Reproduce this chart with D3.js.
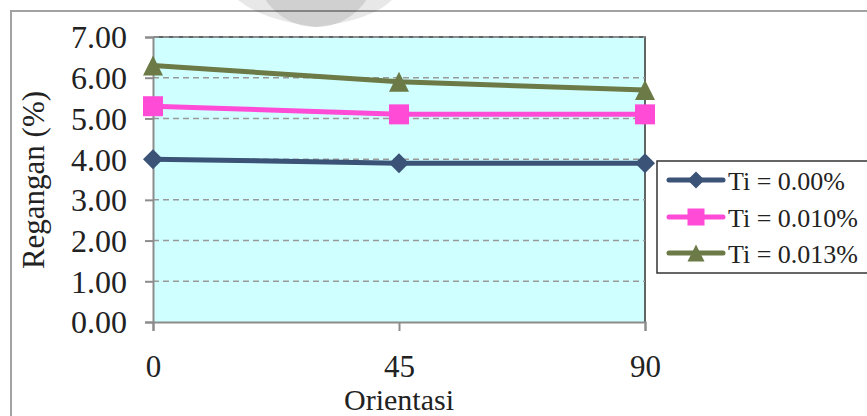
<!DOCTYPE html>
<html>
<head>
<meta charset="utf-8">
<script src="https://cdn.jsdelivr.net/npm/d3@7/dist/d3.min.js"></script>
<style>
  html, body { margin: 0; padding: 0; background: #ffffff; }
  svg { display: block; }
</style>
</head>
<body>
<svg id="chart" width="867" height="416"></svg>
<script>
// Orientation angles on the x axis
const orientations = [0, 45, 90];
// Strain (%) for each titanium content
const ti000 = [4.0, 3.9, 3.9];
const ti010 = [5.3, 5.1, 5.1];
const ti013 = [6.3, 5.9, 5.7];
const seriesNames = ["Ti = 0.00%", "Ti = 0.010%", "Ti = 0.013%"];
const yTicks = [0, 1, 2, 3, 4, 5, 6, 7];

const FONT = "'Liberation Serif', 'Times New Roman', serif";

const series = [
  { name: seriesNames[0], values: ti000, color: "#3a5376", marker: "diamond" },
  { name: seriesNames[1], values: ti010, color: "#ff4bd6", marker: "square" },
  { name: seriesNames[2], values: ti013, color: "#6b7a46", marker: "triangle" }
];

const svg = d3.select("#chart");
const plot = { left: 153, right: 645, top: 37, bottom: 322 };

const x = d3.scaleLinear().domain([0, 90]).range([plot.left, plot.right]);
const y = d3.scaleLinear().domain([0, 7]).range([plot.bottom, plot.top]);

// Outer chart frame
svg.append("rect")
  .attr("x", 11).attr("y", 11).attr("width", 900).attr("height", 450)
  .attr("fill", "none").attr("stroke", "#a2a2a2").attr("stroke-width", 2);

// Plot background
svg.append("rect")
  .attr("x", plot.left).attr("y", plot.top)
  .attr("width", plot.right - plot.left).attr("height", plot.bottom - plot.top)
  .attr("fill", "#d0ffff");

// Plot frame (top and right)
svg.append("path")
  .attr("d", `M${plot.left},${plot.top}H${plot.right}V${plot.bottom}`)
  .attr("fill", "none").attr("stroke", "#333").attr("stroke-width", 1.5);

// Dashed horizontal gridlines
svg.append("g").selectAll("line")
  .data(yTicks.filter(d => d > 0))
  .join("line")
  .attr("x1", plot.left).attr("x2", plot.right)
  .attr("y1", d => y(d)).attr("y2", d => y(d))
  .attr("stroke", "#999").attr("stroke-width", 1.5)
  .attr("stroke-dasharray", "6,4");

// Y axis
const yAxis = svg.append("g")
  .attr("transform", `translate(${plot.left},0)`)
  .call(d3.axisLeft(y).tickValues(yTicks).tickFormat(d3.format(".2f"))
    .tickSize(8).tickPadding(18));
yAxis.select(".domain").attr("stroke", "#8c8c8c").attr("stroke-width", 2);
yAxis.selectAll(".tick line").attr("stroke", "#8c8c8c").attr("stroke-width", 2);
yAxis.selectAll(".tick text")
  .style("font-family", FONT)
  .style("font-size", "32px").attr("fill", "#222").attr("dy", "0.34em");

// X axis
const xAxis = svg.append("g")
  .attr("transform", `translate(0,${plot.bottom})`)
  .call(d3.axisBottom(x).tickValues(orientations).tickFormat(d3.format("d"))
    .tickSize(9).tickPadding(24));
xAxis.select(".domain").attr("stroke", "#8c8c8c").attr("stroke-width", 2);
xAxis.selectAll(".tick line").attr("stroke", "#8c8c8c").attr("stroke-width", 2);
xAxis.selectAll(".tick text")
  .style("font-family", FONT)
  .style("font-size", "31px").attr("fill", "#222");

// Axis titles
svg.append("text")
  .attr("x", 399).attr("y", 409.5)
  .attr("text-anchor", "middle")
  .style("font-family", FONT).style("font-size", "30px").attr("fill", "#222")
  .text("Orientasi");
svg.append("text")
  .attr("transform", "translate(44,180) rotate(-90)")
  .attr("text-anchor", "middle")
  .style("font-family", FONT).style("font-size", "31px").attr("fill", "#222")
  .text("Regangan (%)");

// Marker shapes
function markerPath(type, s) {
  if (type === "diamond") return `M0,${-s}L${s},0L0,${s}L${-s},0Z`;
  if (type === "square") return `M${-s},${-s}H${s}V${s}H${-s}Z`;
  return `M0,${-s}L${s},${s}L${-s},${s}Z`;
}

const line = d3.line()
  .x((d, i) => x(orientations[i]))
  .y(d => y(d));

series.forEach(s => {
  svg.append("path")
    .attr("d", line(s.values))
    .attr("fill", "none").attr("stroke", s.color)
    .attr("stroke-width", 5).attr("stroke-linejoin", "round");
  svg.append("g").selectAll("path")
    .data(s.values)
    .join("path")
    .attr("transform", (d, i) => `translate(${x(orientations[i])},${y(d)})`)
    .attr("d", markerPath(s.marker, 10))
    .attr("fill", s.color);
});

// Legend
const legend = svg.append("g");
legend.append("rect")
  .attr("x", 657).attr("y", 161).attr("width", 240).attr("height", 112)
  .attr("fill", "#fff").attr("stroke", "#333").attr("stroke-width", 1.5);
const rowY = [180, 217, 253];
series.forEach((s, i) => {
  const g = legend.append("g").attr("transform", `translate(0,${rowY[i]})`);
  g.append("line")
    .attr("x1", 669).attr("x2", 723).attr("y1", 0).attr("y2", 0)
    .attr("stroke", s.color).attr("stroke-width", 5).attr("stroke-linecap", "round");
  g.append("path")
    .attr("transform", "translate(696,0)")
    .attr("d", markerPath(s.marker, 8.5))
    .attr("fill", s.color);
  g.append("text")
    .attr("x", 728).attr("y", 10)
    .style("font-family", FONT).style("font-size", "26px").attr("fill", "#222")
    .text(s.name);
});

// Faint emblem at the top edge
const mark = svg.append("g");
mark.append("path")
  .attr("d", "M238,0 Q262,20 316,27 Q372,20 392,0 Z")
  .attr("fill", "#000").attr("opacity", 0.09);
mark.append("circle")
  .attr("cx", 316).attr("cy", -33.5).attr("r", 60.5)
  .attr("fill", "#000").attr("opacity", 0.1);
</script>
</body>
</html>
